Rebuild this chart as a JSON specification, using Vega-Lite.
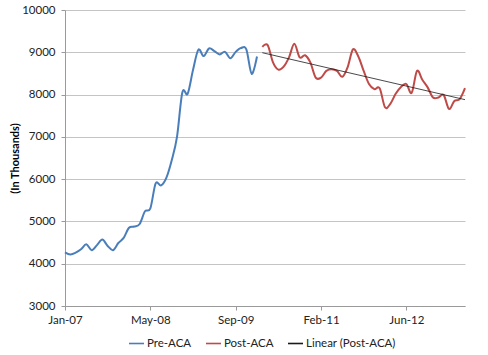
{
  "$schema": "https://vega.github.io/schema/vega-lite/v6.json",
  "width": 400,
  "height": 296,
  "autosize": {"type": "none"},
  "padding": {"left": 65, "top": 10, "right": 23, "bottom": 49},
  "background": "white",
  "data": {"values": [
    {"month": "Jan-07", "series": "Pre-ACA", "value": 4270},
    {"month": "Feb-07", "series": "Pre-ACA", "value": 4220},
    {"month": "Mar-07", "series": "Pre-ACA", "value": 4260},
    {"month": "Apr-07", "series": "Pre-ACA", "value": 4340},
    {"month": "May-07", "series": "Pre-ACA", "value": 4460},
    {"month": "Jun-07", "series": "Pre-ACA", "value": 4320},
    {"month": "Jul-07", "series": "Pre-ACA", "value": 4440},
    {"month": "Aug-07", "series": "Pre-ACA", "value": 4570},
    {"month": "Sep-07", "series": "Pre-ACA", "value": 4420},
    {"month": "Oct-07", "series": "Pre-ACA", "value": 4320},
    {"month": "Nov-07", "series": "Pre-ACA", "value": 4490},
    {"month": "Dec-07", "series": "Pre-ACA", "value": 4610},
    {"month": "Jan-08", "series": "Pre-ACA", "value": 4850},
    {"month": "Feb-08", "series": "Pre-ACA", "value": 4880},
    {"month": "Mar-08", "series": "Pre-ACA", "value": 4940},
    {"month": "Apr-08", "series": "Pre-ACA", "value": 5240},
    {"month": "May-08", "series": "Pre-ACA", "value": 5310},
    {"month": "Jun-08", "series": "Pre-ACA", "value": 5900},
    {"month": "Jul-08", "series": "Pre-ACA", "value": 5850},
    {"month": "Aug-08", "series": "Pre-ACA", "value": 6030},
    {"month": "Sep-08", "series": "Pre-ACA", "value": 6440},
    {"month": "Oct-08", "series": "Pre-ACA", "value": 7000},
    {"month": "Nov-08", "series": "Pre-ACA", "value": 8050},
    {"month": "Dec-08", "series": "Pre-ACA", "value": 8020},
    {"month": "Jan-09", "series": "Pre-ACA", "value": 8580},
    {"month": "Feb-09", "series": "Pre-ACA", "value": 9060},
    {"month": "Mar-09", "series": "Pre-ACA", "value": 8910},
    {"month": "Apr-09", "series": "Pre-ACA", "value": 9090},
    {"month": "May-09", "series": "Pre-ACA", "value": 9030},
    {"month": "Jun-09", "series": "Pre-ACA", "value": 8950},
    {"month": "Jul-09", "series": "Pre-ACA", "value": 9010},
    {"month": "Aug-09", "series": "Pre-ACA", "value": 8860},
    {"month": "Sep-09", "series": "Pre-ACA", "value": 9010},
    {"month": "Oct-09", "series": "Pre-ACA", "value": 9100},
    {"month": "Nov-09", "series": "Pre-ACA", "value": 9070},
    {"month": "Dec-09", "series": "Pre-ACA", "value": 8490},
    {"month": "Jan-10", "series": "Pre-ACA", "value": 8900},
    {"month": "Mar-10", "series": "Post-ACA", "value": 9130},
    {"month": "Apr-10", "series": "Post-ACA", "value": 9170},
    {"month": "May-10", "series": "Post-ACA", "value": 8760},
    {"month": "Jun-10", "series": "Post-ACA", "value": 8590},
    {"month": "Jul-10", "series": "Post-ACA", "value": 8660},
    {"month": "Aug-10", "series": "Post-ACA", "value": 8880},
    {"month": "Sep-10", "series": "Post-ACA", "value": 9200},
    {"month": "Oct-10", "series": "Post-ACA", "value": 8880},
    {"month": "Nov-10", "series": "Post-ACA", "value": 8930},
    {"month": "Dec-10", "series": "Post-ACA", "value": 8760},
    {"month": "Jan-11", "series": "Post-ACA", "value": 8400},
    {"month": "Feb-11", "series": "Post-ACA", "value": 8400},
    {"month": "Mar-11", "series": "Post-ACA", "value": 8560},
    {"month": "Apr-11", "series": "Post-ACA", "value": 8600},
    {"month": "May-11", "series": "Post-ACA", "value": 8560},
    {"month": "Jun-11", "series": "Post-ACA", "value": 8420},
    {"month": "Jul-11", "series": "Post-ACA", "value": 8650},
    {"month": "Aug-11", "series": "Post-ACA", "value": 9070},
    {"month": "Sep-11", "series": "Post-ACA", "value": 8900},
    {"month": "Oct-11", "series": "Post-ACA", "value": 8560},
    {"month": "Nov-11", "series": "Post-ACA", "value": 8250},
    {"month": "Dec-11", "series": "Post-ACA", "value": 8130},
    {"month": "Jan-12", "series": "Post-ACA", "value": 8150},
    {"month": "Feb-12", "series": "Post-ACA", "value": 7700},
    {"month": "Mar-12", "series": "Post-ACA", "value": 7780},
    {"month": "Apr-12", "series": "Post-ACA", "value": 8020},
    {"month": "May-12", "series": "Post-ACA", "value": 8180},
    {"month": "Jun-12", "series": "Post-ACA", "value": 8250},
    {"month": "Jul-12", "series": "Post-ACA", "value": 8040},
    {"month": "Aug-12", "series": "Post-ACA", "value": 8560},
    {"month": "Sep-12", "series": "Post-ACA", "value": 8350},
    {"month": "Oct-12", "series": "Post-ACA", "value": 8170},
    {"month": "Nov-12", "series": "Post-ACA", "value": 7930},
    {"month": "Dec-12", "series": "Post-ACA", "value": 7930},
    {"month": "Jan-13", "series": "Post-ACA", "value": 7990},
    {"month": "Feb-13", "series": "Post-ACA", "value": 7660},
    {"month": "Mar-13", "series": "Post-ACA", "value": 7850},
    {"month": "Apr-13", "series": "Post-ACA", "value": 7890},
    {"month": "May-13", "series": "Post-ACA", "value": 8150},
    {"month": "Mar-10", "series": "Linear (Post-ACA)", "value": 8990},
    {"month": "May-13", "series": "Linear (Post-ACA)", "value": 7880}
  ]},
  "mark": {"type": "line", "interpolate": "cardinal"},
  "encoding": {
    "x": {
      "field": "month", "type": "ordinal", "sort": null,
      "scale": {"type": "point", "padding": 0},
      "axis": {
        "title": null,
        "values": ["Jan-07", "May-08", "Sep-09", "Feb-11", "Jun-12"],
        "labelAngle": 0,
        "grid": false,
        "tickSize": 4,
        "labelPadding": 4
      }
    },
    "y": {
      "field": "value", "type": "quantitative",
      "scale": {"domain": [3000, 10000], "nice": false, "zero": false},
      "axis": {
        "title": "(In Thousands)",
        "values": [3000, 4000, 5000, 6000, 7000, 8000, 9000, 10000],
        "format": "d",
        "tickSize": 4,
        "labelPadding": 6,
        "titlePadding": 1
      }
    },
    "color": {
      "field": "series", "type": "nominal",
      "scale": {"domain": ["Pre-ACA", "Post-ACA", "Linear (Post-ACA)"], "range": ["#4A7EBB", "#BE4B48", "#1a1a1a"]},
      "legend": {
        "title": null, "orient": "none", "direction": "horizontal",
        "legendX": 63, "legendY": 325,
        "symbolType": "stroke", "symbolSize": 225, "symbolStrokeWidth": 1.6,
        "labelOffset": 2, "columnPadding": 10
      }
    },
    "strokeWidth": {
      "condition": {"test": "datum.series === 'Linear (Post-ACA)'", "value": 0.8},
      "value": 2
    }
  },
  "config": {
    "view": {"stroke": null},
    "font": "Lato",
    "axis": {
      "labelFont": "Lato", "labelFontSize": 11.5, "labelColor": "#222222",
      "titleFont": "Lato", "titleFontSize": 11, "titleFontWeight": "bold", "titleColor": "#000000",
      "domainColor": "#9a9a9a", "tickColor": "#9a9a9a", "gridColor": "#c4c4c4"
    },
    "legend": {"labelFont": "Lato", "labelFontSize": 11.5, "labelColor": "#222222"}
  }
}
